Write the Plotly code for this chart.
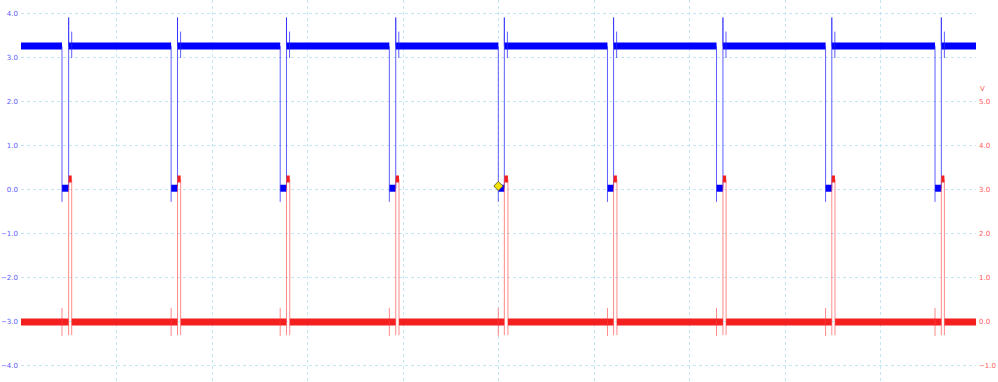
import plotly.graph_objects as go

# ---- data (time in grid divisions, 10 divisions wide) ----
fall_times = [0.429, 1.572, 2.714, 3.857, 4.998, 6.141, 7.283, 8.425, 9.571]   # blue falling edge
rise_times = [0.499, 1.639, 2.780, 3.924, 5.061, 6.205, 7.350, 8.490, 9.637]   # blue rising edge / red rising edge
red_fall_times = [0.531, 1.672, 2.814, 3.958, 5.099, 6.240, 7.383, 8.524, 9.669]

blue_high = 3.27
blue_low = 0.04
blue_undershoot = -0.27
blue_overshoot = 3.92
blue_ring_top, blue_ring_bottom = 3.60, 3.00

red_low = 0.0
red_high = 3.25
red_glitch_top, red_glitch_bottom = 0.32, -0.32
red_undershoot = -0.30

left_ticks = [-4, -3, -2, -1, 0, 1, 2, 3, 4]
right_ticks = [-1, 0, 1, 2, 3, 4, 5]
trigger_point = (4.998, 0.09)

X0, X1 = 0.0, 10.0

BLUE = "#0000ff"
BLUE_THIN = "rgba(40,40,255,0.75)"
RED = "#f42020"
RED_THIN = "rgba(255,60,60,0.6)"

# ---- build traces ----
def band(starts, ends, level):
    xs, ys = [], []
    for a, b in zip(starts, ends):
        xs += [a, b, None]
        ys += [level, level, None]
    return xs, ys

# blue high band
bx, by = band([X0] + rise_times, fall_times + [X1], blue_high)
# blue low band
blx, bly = band(fall_times, rise_times, blue_low)
# blue thin edges
btx, bty = [], []
for f, r in zip(fall_times, rise_times):
    btx += [f, f, None, r, r, r, None, r + 0.032, r + 0.032, None]
    bty += [blue_high, blue_undershoot, None, blue_low, blue_overshoot, blue_high, None,
            blue_ring_bottom, blue_ring_top, None]

# red low band
rx, ry = band([X0] + red_fall_times, rise_times + [X1], red_low)
# red high block
rhx, rhy = band(rise_times, red_fall_times, red_high)
# red thin edges
rtx, rty = [], []
for f, r, rf in zip(fall_times, rise_times, red_fall_times):
    rtx += [f, f, None, r, r, None, rf, rf, None]
    rty += [red_glitch_top, red_glitch_bottom, None, red_undershoot, red_high, None,
            red_high, red_undershoot, None]

fig = go.Figure()
fig.add_trace(go.Scatter(x=bx, y=by, mode="lines", line=dict(color=BLUE, width=7), yaxis="y",
                         showlegend=False, hoverinfo="skip"))
fig.add_trace(go.Scatter(x=blx, y=bly, mode="lines", line=dict(color=BLUE, width=7), yaxis="y",
                         showlegend=False, hoverinfo="skip"))
fig.add_trace(go.Scatter(x=btx, y=bty, mode="lines", line=dict(color=BLUE_THIN, width=1), yaxis="y",
                         showlegend=False, hoverinfo="skip"))
fig.add_trace(go.Scatter(x=rx, y=ry, mode="lines", line=dict(color=RED, width=7), yaxis="y2",
                         showlegend=False, hoverinfo="skip"))
fig.add_trace(go.Scatter(x=rhx, y=rhy, mode="lines", line=dict(color=RED, width=7), yaxis="y2",
                         showlegend=False, hoverinfo="skip"))
fig.add_trace(go.Scatter(x=rtx, y=rty, mode="lines", line=dict(color=RED_THIN, width=1), yaxis="y2",
                         showlegend=False, hoverinfo="skip"))
fig.add_trace(go.Scatter(x=[trigger_point[0]], y=[trigger_point[1]], mode="markers", yaxis="y",
                         marker=dict(symbol="diamond", size=7, color="#f5e400",
                                     line=dict(color="#6b6b3a", width=1)),
                         showlegend=False, hoverinfo="skip"))

GRID = "#c3e6f2"
fig.update_layout(
    width=998, height=382,
    margin=dict(l=21, r=22, t=0, b=0),
    paper_bgcolor="white", plot_bgcolor="white",
    font=dict(family="DejaVu Sans", size=7),
    xaxis=dict(range=[X0, X1], dtick=1, tick0=0, showticklabels=False, showgrid=True,
               gridcolor=GRID, griddash="dot", gridwidth=1, zeroline=False, showline=False, ticks=""),
    yaxis=dict(range=[-4.364, 4.318], tickvals=left_ticks, tickformat=".1f",
               tickfont=dict(color="#5a5aff", size=7), showgrid=True, gridcolor=GRID,
               griddash="dot", gridwidth=1, zeroline=False, showline=False, ticks="",
               ticklabelstandoff=2),
    yaxis2=dict(range=[-1.364, 7.318], tickvals=right_ticks, tickformat=".1f", overlaying="y",
                side="right", tickfont=dict(color="#ff5a5a", size=7), showgrid=False,
                zeroline=False, showline=False, ticks="", ticklabelstandoff=2),
)
# "V" unit label above the right axis ticks
fig.layout.annotations = [dict(text="V", xref="paper", yref="paper", x=1.0, y=1 - 89 / 382,
                               xanchor="left", yanchor="middle", xshift=2, showarrow=False,
                               font=dict(color="#ff5a5a", size=7))]

fig.write_html("out.html")
